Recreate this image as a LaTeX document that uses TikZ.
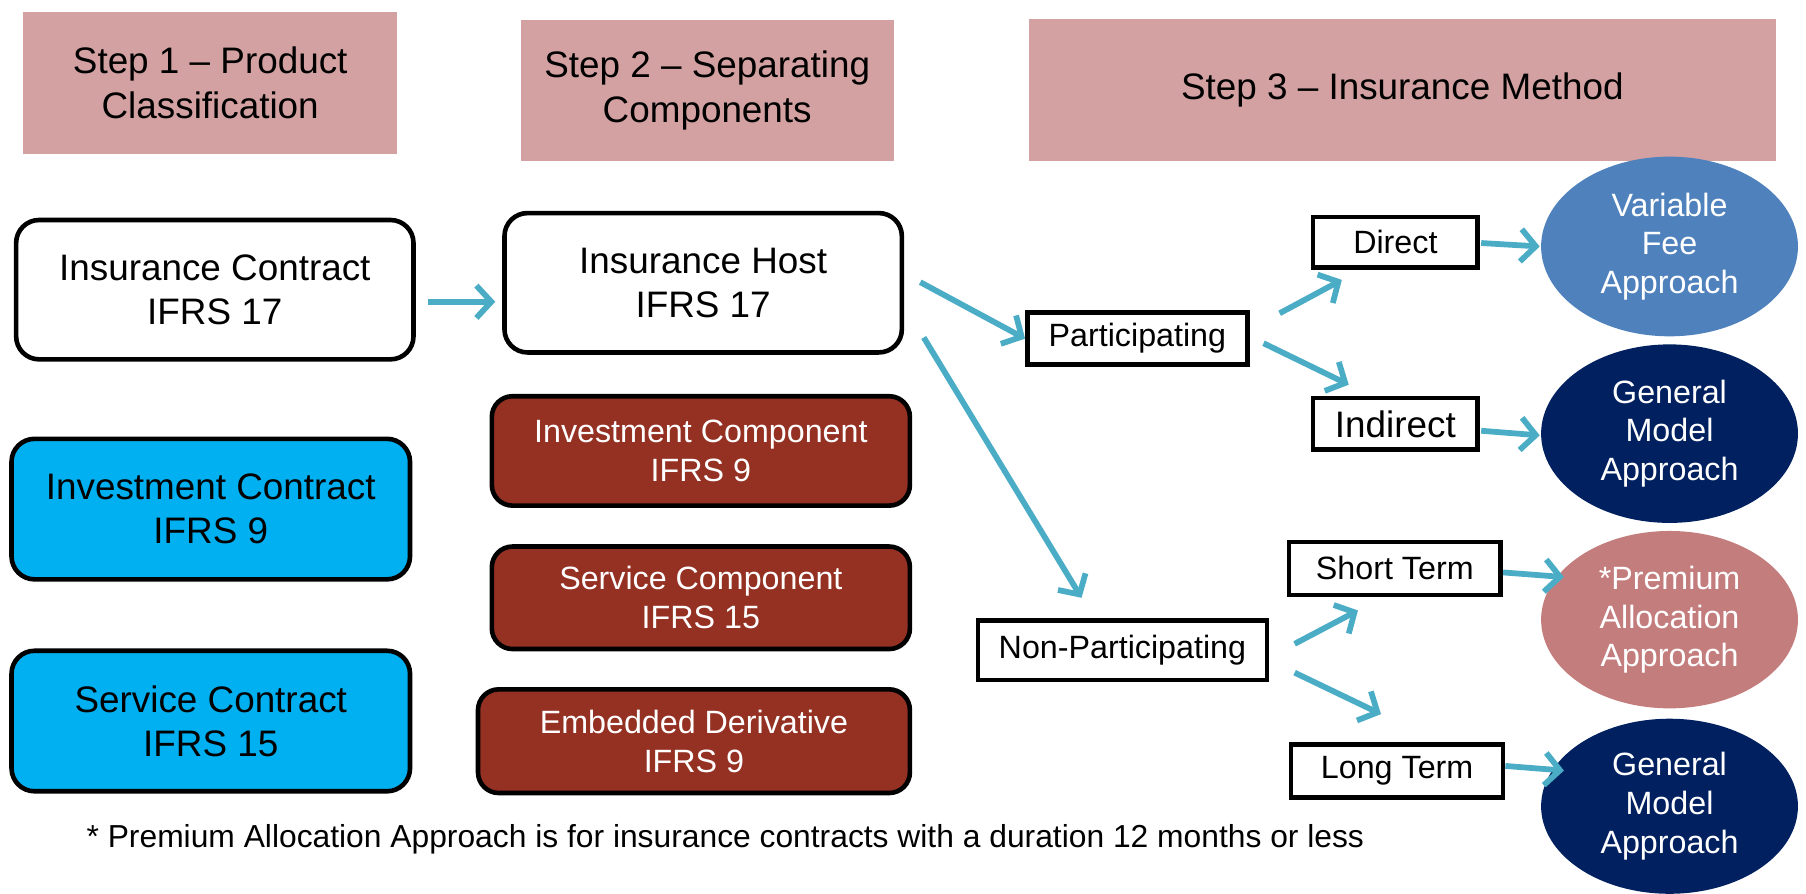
\documentclass[tikz,border=0pt]{standalone}
\usepackage{fontspec}
\setmainfont{Liberation Sans}
\usetikzlibrary{arrows.meta,calc,shapes.geometric}
\definecolor{hdr}{HTML}{D3A1A1}
\definecolor{cyanbox}{HTML}{00B0F0}
\definecolor{brownbox}{HTML}{953123}
\definecolor{vfacol}{HTML}{4F81BD}
\definecolor{navy}{HTML}{002060}
\definecolor{paacol}{HTML}{C47D7D}
\definecolor{arrcol}{HTML}{4BACC6}
\tikzset{
  hdrbox/.style={rectangle, fill=hdr, draw=none, align=center, inner sep=0pt,
    font=\fontsize{32}{38.4}\selectfont},
  bigbox/.style={rectangle, rounded corners=20pt, draw=black, line width=4pt, align=center,
    inner sep=0pt, font=\fontsize{32}{38.4}\selectfont},
  compbox/.style={rectangle, rounded corners=18pt, draw=black, line width=4pt, fill=brownbox,
    text=white, align=center, inner sep=0pt, font=\fontsize{28}{33.6}\selectfont},
  smallbox/.style={rectangle, draw=black, line width=4pt, fill=white, inner sep=0pt,
    font=\fontsize{28}{33.6}\selectfont},
  circ/.style={ellipse, draw=none, text=white, align=center, inner sep=0pt,
    minimum width=223pt, font=\fontsize{28}{33.6}\selectfont},
  arr/.style={draw=arrcol, line width=5pt, -{Straight Barb[length=13pt,width=28pt]}},
}
\begin{document}
\begin{tikzpicture}[x=1pt,y=-1pt]
\useasboundingbox (0,0) rectangle (1568,776);
% headers
\node[hdrbox, minimum width=325pt, minimum height=124pt] (h1) at (182.5,72) {Step 1 – Product\\Classification};
\node[hdrbox, minimum width=324pt, minimum height=123pt] (h2) at (614,78.5) {Step 2 – Separating\\Components};
\node[hdrbox, minimum width=649pt, minimum height=123pt] (h3) at (1217.5,78) {Step 3 – Insurance Method};
% step 1
\node[bigbox, fill=white, minimum width=345pt, minimum height=121pt] (ic) at (186.5,251.5) {Insurance Contract\\IFRS 17};
\node[bigbox, fill=cyanbox, minimum width=346pt, minimum height=122pt] (invc) at (183,442) {Investment Contract\\IFRS 9};
\node[bigbox, fill=cyanbox, minimum width=346pt, minimum height=122pt] (svc) at (183,626) {Service Contract\\IFRS 15};
% step 2
\node[bigbox, fill=white, minimum width=345pt, minimum height=121pt] (ih) at (610.5,245.5) {Insurance Host\\IFRS 17};
\node[compbox, minimum width=363pt, minimum height=95pt] (invcomp) at (608.5,391.5) {Investment Component\\IFRS 9};
\node[compbox, minimum width=363pt, minimum height=89pt] (svcomp) at (608.5,519) {Service Component\\IFRS 15};
\node[compbox, minimum width=375pt, minimum height=90pt] (emb) at (602.5,643.5) {Embedded Derivative\\IFRS 9};
% step 3
\node[smallbox, minimum width=191pt, minimum height=45pt] (part) at (987.5,294) {Participating};
\node[smallbox, minimum width=143pt, minimum height=44pt] (direct) at (1211.5,210.5) {Direct};
\node[smallbox, minimum width=143pt, minimum height=45pt, font=\fontsize{32}{38.4}\selectfont] (indirect) at (1211.5,368) {Indirect};
\node[smallbox, minimum width=251pt, minimum height=52pt] (nonpart) at (974.5,564.5) {Non-Participating};
\node[smallbox, minimum width=184pt, minimum height=46pt] (short) at (1211,493.5) {Short Term};
\node[smallbox, minimum width=184pt, minimum height=46pt] (long) at (1213,669.5) {Long Term};
\node[circ, fill=vfacol, minimum height=156pt] (vfa) at (1449.5,214) {Variable\\Fee\\Approach};
\node[circ, fill=navy, minimum height=155pt] (gma1) at (1449.5,376.5) {General\\Model\\Approach};
\node[circ, fill=paacol, minimum height=154pt] (paa) at (1449.5,538) {*Premium\\Allocation\\Approach};
\node[circ, fill=navy, minimum height=152pt] (gma2) at (1449.5,700) {General\\Model\\Approach};
% footnote
\node[anchor=west, inner sep=0pt, font=\fontsize{27.6}{33}\selectfont] (foot) at (75,729) {* Premium Allocation Approach is for insurance contracts with a duration 12 months or less};
% arrows
\draw[arr] ($(ic.east)+(11,10.5)$) -- ($(ih.west)+(-6,16.5)$);
\draw[arr] ($(ih.east)+(14,-0.5)$) -- ($(part.west)+(0,0)$);
\draw[arr] ($(ih.east)+(17,47.5)$) -- ($(nonpart.north)+(-35.5,-17.5)$);
\draw[arr] ($(part.east)+(26,-22)$) -- ($(direct.south)+(-46.5,8.5)$);
\draw[arr] ($(part.east)+(12,4)$) -- ($(indirect.north)+(-40.5,-9.5)$);
\draw[arr] ($(direct.east)+(1,0.5)$) -- ($(vfa.west)+(-1,0)$);
\draw[arr] ($(indirect.east)+(1,6)$) -- ($(gma1.west)+(-1,1.5)$);
\draw[arr] ($(nonpart.east)+(22,-5.5)$) -- ($(short.south)+(-32,11.5)$);
\draw[arr] ($(nonpart.east)+(22,19.5)$) -- ($(long.north)+(-14,-24.5)$);
\draw[arr] ($(short.east)+(0,3.5)$) -- ($(paa.west)+(20,-37)$);
\draw[arr] ($(long.east)+(0,-4.5)$) -- ($(gma2.west)+(20,-31)$);
\end{tikzpicture}
\end{document}
